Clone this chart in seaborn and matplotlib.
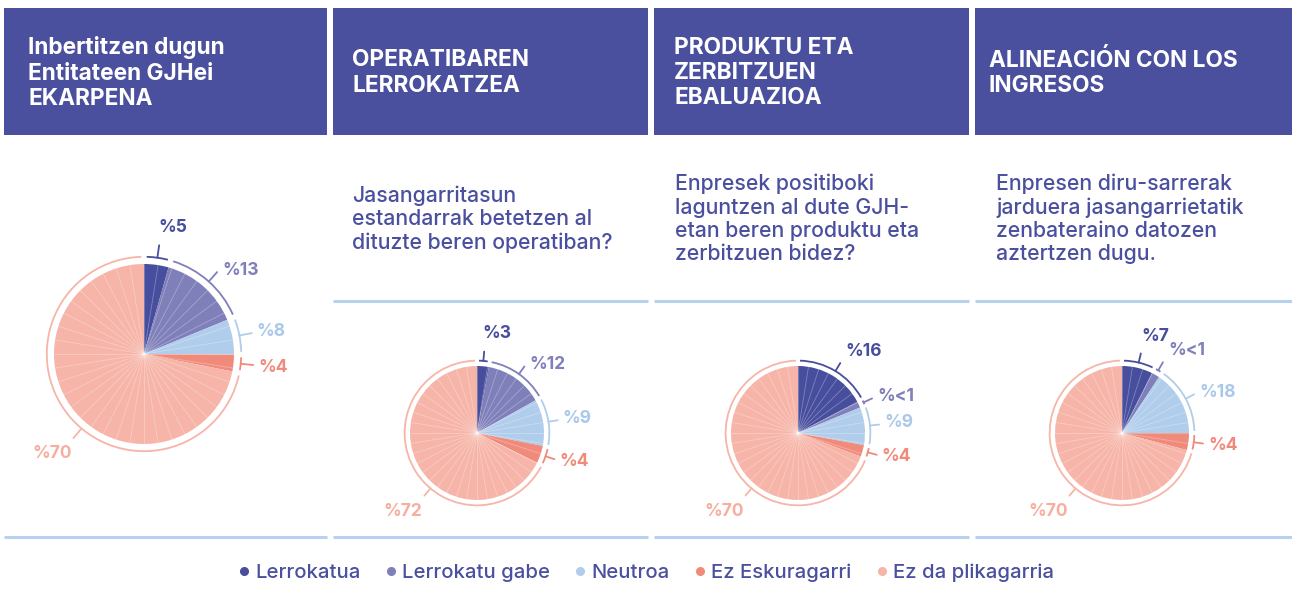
import matplotlib
matplotlib.use("Agg")
from matplotlib import pyplot as plt
from matplotlib.patches import Arc, Rectangle
from matplotlib.lines import Line2D
import seaborn as sns
import numpy as np

# categories and colours
categories = ['Lerrokatua', 'Lerrokatu gabe', 'Neutroa', 'Ez Eskuragarri', 'Ez da plikagarria']
colors = ['#474e9d', '#7f7fba', '#b1cdec', '#f08b7b', '#f6b5a8']

titles = [
    'Inbertitzen dugun\nEntitateen GJHei\nEKARPENA',
    'OPERATIBAREN\nLERROKATZEA',
    'PRODUKTU ETA\nZERBITZUEN\nEBALUAZIOA',
    'ALINEACIÓN CON LOS\nINGRESOS',
]
questions = [
    '',
    'Jasangarritasun\nestandarrak betetzen al\ndituzte beren operatiban?',
    'Enpresek positiboki\nlaguntzen al dute GJH-\netan beren produktu eta\nzerbitzuen bidez?',
    'Enpresen diru-sarrerak\njarduera jasangarrietatik\nzenbateraino datozen\naztertzen dugu.',
]

# slice sizes (%) as drawn in the picture
ekarpena = [4.4, 14.4, 6.3, 3.0, 71.9]
operatiba = [2.8, 14.1, 11.2, 4.2, 67.7]
produktuak = [17.3, 1.5, 9.1, 2.8, 69.3]
diru_sarrerak = [7.4, 1.9, 15.7, 4.1, 70.9]

# printed labels
ekarpena_labels = ['%5', '%13', '%8', '%4', '%70']
operatiba_labels = ['%3', '%12', '%9', '%4', '%72']
produktuak_labels = ['%16', '%<1', '%9', '%4', '%70']
diru_sarrerak_labels = ['%7', '%<1', '%18', '%4', '%70']

sns.set_theme(style='white')
sns.set_palette(colors)
plt.rcParams['font.family'] = ['Inter', 'DejaVu Sans']

W, H = 1292, 601
TXT = '#4a4f9e'
LINE = '#b7d2ef'
label_colors = ['#474e9d', '#7f7fba', '#aac8ea', '#f08b7b', '#f6ae9f']

fig = plt.figure(figsize=(W / 100, H / 100), dpi=100)
bg = fig.add_axes([0, 0, 1, 1])
bg.set_xlim(0, W)
bg.set_ylim(H, 0)
bg.axis('off')

cols = [(4, 327), (333, 648), (654, 969), (975, 1292)]
title_x = [28, 352, 674, 989]
question_x = [352, 352, 675, 996]

for i, (x0, x1) in enumerate(cols):
    bg.add_patch(Rectangle((x0, 8), x1 - x0, 127, color='#4a4f9e', lw=0))
    bg.text(title_x[i], 73, titles[i], color='white', fontsize=16.3, fontweight='bold',
            va='center', ha='left', linespacing=1.2)
    if questions[i]:
        bg.text(question_x[i], 219, questions[i], color=TXT, fontsize=15.3, fontweight='medium',
                va='center', ha='left', linespacing=1.2)
        bg.plot([x0, x1], [301, 301], color=LINE, lw=2.2, solid_capstyle='butt')
    bg.plot([x0, x1], [537, 537], color=LINE, lw=2.2, solid_capstyle='butt')


def draw_pie(cx, cy, r, values, labels):
    s = 320
    ax = fig.add_axes([(cx - s / 2) / W, (H - cy - s / 2) / H, s / W, s / H])
    ax.pie(values, radius=r, colors=colors, startangle=90, counterclock=False,
           wedgeprops=dict(linewidth=0))
    for a in np.arange(0, 360, 9):
        t = np.deg2rad(a)
        ax.plot([0, r * np.cos(t)], [0, r * np.sin(t)], color='white', lw=0.6, alpha=0.3)
    cum = np.concatenate([[0], np.cumsum(values)]) / sum(values)
    ra, rt = r * 1.08, r * 1.22
    for i in range(len(values)):
        a0 = 90 - 360 * cum[i + 1]
        a1 = 90 - 360 * cum[i]
        gap = min(1.6, (a1 - a0) * 0.2)
        ax.add_patch(Arc((0, 0), 2 * ra, 2 * ra, theta1=a0 + gap, theta2=a1 - gap,
                         color=colors[i], lw=1.3))
        # the big slice gets its pointer on the lower-left diagonal
        mid = 90 - 220 if values[i] > 50 else (a0 + a1) / 2
        m = np.deg2rad(mid)
        dx, dy = np.cos(m), np.sin(m)
        ax.plot([ra * dx, rt * dx], [ra * dy, rt * dy], color=colors[i], lw=1.3)
        if dy > 0.85:
            ha, va = 'left', 'bottom'
            tx, ty = rt * dx + 16 * dx - 3, rt * dy + 3 + 45 * (dy - 0.85)
        elif dy < -0.55:
            ha, va = 'right', 'top'
            tx, ty = rt * dx - 2, rt * dy - 7
        else:
            ha, va = ('left' if dx > 0 else 'right'), 'center'
            tx, ty = rt * dx + 5 * np.sign(dx), rt * dy + 2 * np.sign(dy)
        ax.text(tx, ty, labels[i], color=label_colors[i], fontsize=12.5, fontweight='bold',
                ha=ha, va=va)
    ax.set_xlim(-s / 2, s / 2)
    ax.set_ylim(-s / 2, s / 2)
    ax.axis('off')


draw_pie(144, 354, 90, ekarpena, ekarpena_labels)
draw_pie(477, 433, 67, operatiba, operatiba_labels)
draw_pie(798, 433, 67, produktuak, produktuak_labels)
draw_pie(1122, 433, 67, diru_sarrerak, diru_sarrerak_labels)

handles = [Line2D([], [], marker='o', linestyle='', markersize=5.5, markerfacecolor=c,
                  markeredgecolor=c) for c in colors]
fig.legend(handles, categories, loc='center', bbox_to_anchor=(0.5, 1 - 573 / H), ncol=5,
           frameon=False, labelcolor=TXT, handlelength=0.6, handletextpad=0.25,
           columnspacing=1.2, prop={'size': 14.6, 'weight': 'medium'})

fig.savefig('out.png', dpi=100)
